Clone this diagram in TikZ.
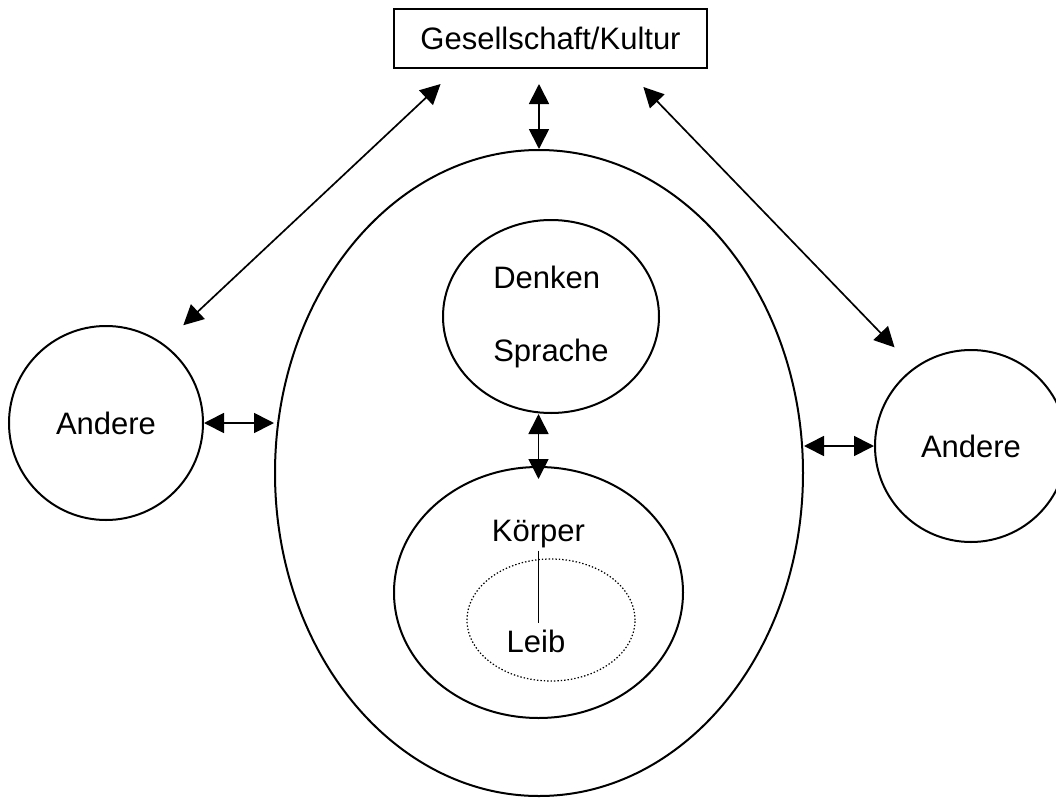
\documentclass[tikz,border=0pt]{standalone}
\usepackage{fontspec}
\setmainfont{Liberation Sans}
\usetikzlibrary{arrows.meta,shapes.geometric}
\newcommand{\Schrift}{\fontsize{15.5}{18.6}\selectfont}

\begin{document}
\begin{tikzpicture}[x=0.5pt,y=-0.5pt,font=\Schrift,
  rahmen/.style={draw=black, line width=1pt},
  kreis/.style={rahmen, ellipse, inner sep=0pt},
  pfeil/.style={{Triangle[length=10pt,width=10pt]}-{Triangle[length=10pt,width=10pt]}, line width=0.85pt}]

\useasboundingbox (0,0) rectangle (1056,798);

\node[rahmen, minimum width=156.5pt, minimum height=29.5pt] (gesell) at (550.5,38.5) {Gesellschaft/Kultur};

\node[kreis, minimum width=264pt, minimum height=323pt] (ich) at (539,473) {};
\node[kreis, minimum width=108pt, minimum height=96.5pt, align=left, font=\fontsize{15.5}{36.5}\selectfont] (geist) at (551,316.5) {Denken\\Sprache};
\node[kreis, minimum width=144.5pt, minimum height=125.5pt] (koerper) at (538.5,592.5) {};
\node[ellipse, draw=black, line width=0.6pt, dash pattern=on 0.7pt off 1pt, minimum width=84pt, minimum height=61pt] (leib) at (551,620) {};
\node[inner sep=0pt] (koerpertxt) at (538.5,534) {Körper};
\node[inner sep=0pt] (leibtxt) at (536,641) {Leib};

\node[rahmen, circle, inner sep=0pt, minimum size=97pt] (andereL) at (106,423) {Andere};
\node[rahmen, circle, inner sep=0pt, minimum size=96pt] (andereR) at (971,446) {Andere};

\draw[line width=0.85pt, shorten <=1.2pt, shorten >=3.3pt] (koerpertxt.south) -- (koerpertxt.south |- leibtxt.north);

\draw[pfeil, shorten <=7.5pt] (gesell.south -| ich.north) -- (ich.north);
\draw[pfeil, shorten <=11pt, shorten >=13.5pt] (gesell.198) -- (andereL.54);
\draw[pfeil, shorten <=12.5pt, shorten >=14pt] (gesell.338) -- (andereR.126);
\draw[pfeil, shorten >=-6.5pt] (geist.south -| koerper.north) -- (koerper.north);
\draw[pfeil] (andereL.east) -- (andereL.east -| ich.west);
\draw[pfeil] (andereR.west -| ich.east) -- (andereR.west);

\end{tikzpicture}
\end{document}
